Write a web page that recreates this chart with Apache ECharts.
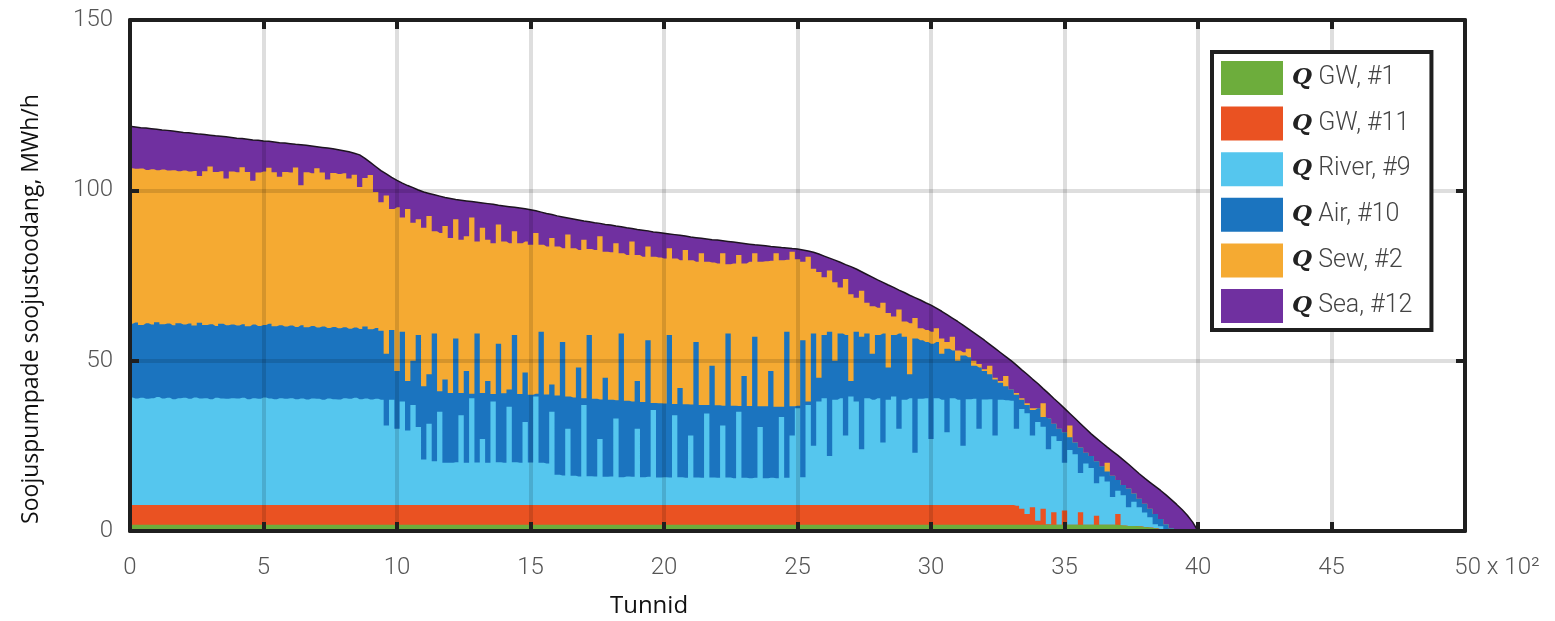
<!DOCTYPE html>
<html>
<head>
<meta charset="utf-8">
<title>Soojuspumpade soojustoodang</title>
<script src="https://cdn.jsdelivr.net/npm/echarts@6.0.0/dist/echarts.min.js"></script>
<style>
html,body{margin:0;padding:0;background:#fff;}
#chart{width:1555px;height:621px;}
</style>
</head>
<body>
<div id="chart"></div>
<script>
// hour grid, in units of 100 h (axis is labelled "x 10²"), one sample every 20 h
const hours = [];
for (let i = 0; i <= 200; i++) hours.push(Math.round(i * 2) / 10);

// upper edge of every coloured band (MWh/h)
// the bands are overlaid, lowest band drawn last
const seaTop = [
  118.8,118.6,118.4,118.3,118.1,117.9,117.7,117.6,117.4,117.2,
  117.0,116.9,116.7,116.5,116.4,116.2,116.0,115.9,115.7,115.5,
  115.3,115.2,115.0,114.8,114.7,114.5,114.4,114.2,114.0,113.9,
  113.7,113.5,113.4,113.2,113.0,112.8,112.6,112.4,112.2,111.9,
  111.6,111.3,110.9,110.4,109.4,108.2,107.0,105.8,104.8,103.8,
  102.9,102.1,101.4,100.8,100.1,99.5,99.1,98.7,98.3,97.9,
  97.6,97.3,97.1,96.9,96.7,96.5,96.3,96.1,95.9,95.6,
  95.4,95.2,95.0,94.8,94.6,94.3,94.0,93.6,93.2,92.9,
  92.5,92.2,91.9,91.6,91.3,91.0,90.8,90.5,90.3,90.0,
  89.8,89.5,89.3,89.0,88.8,88.5,88.3,88.1,87.8,87.6,
  87.4,87.2,87.0,86.8,86.6,86.3,86.1,85.9,85.7,85.5,
  85.4,85.2,85.0,84.8,84.6,84.4,84.2,84.0,83.9,83.7,
  83.5,83.4,83.2,83.1,82.9,82.8,82.5,82.2,81.8,81.3,
  80.7,80.1,79.5,78.9,78.2,77.6,76.9,76.1,75.3,74.5,
  73.7,73.0,72.2,71.5,70.7,70.0,69.2,68.5,67.8,67.0,
  66.3,65.4,64.5,63.5,62.5,61.5,60.4,59.3,58.2,57.1,
  56.0,54.8,53.6,52.4,51.2,50.0,48.7,47.3,46.0,44.6,
  43.3,41.8,40.4,38.9,37.5,36.0,34.5,33.0,31.5,30.0,
  28.5,27.2,25.9,24.6,23.4,22.2,20.9,19.6,18.2,16.8,
  15.5,14.3,13.1,11.9,10.6,9.2,7.8,6.3,4.6,2.6,
  0
];
const sewTop = [
  106.5,106.3,106.4,106.0,106.2,105.9,106.1,105.8,105.9,105.6,
  105.8,105.5,105.7,104.2,105.6,107.0,105.4,105.6,103.5,105.5,
  105.3,106.8,105.4,102.8,105.2,105.5,106.6,105.3,104.0,105.4,
  105.2,106.7,101.5,105.3,105.0,106.5,105.2,103.2,105.1,104.8,
  105.0,103.5,104.6,101.0,103.6,104.5,99.5,96.5,98.5,94.5,
  95.0,92.0,94.5,90.5,91.5,89.0,92.5,88.0,87.5,89.5,
  86.0,91.5,85.5,86.5,92.0,85.0,89.0,85.5,84.5,90.0,
  85.0,84.5,88.0,84.5,85.0,84.0,87.5,84.0,83.5,86.0,
  83.5,83.0,87.0,83.0,82.5,85.5,82.8,82.5,86.5,82.0,
  81.8,84.5,81.5,81.0,85.0,81.0,80.5,83.5,80.5,80.3,
  80.0,83.0,80.0,79.5,82.5,79.5,79.0,81.5,79.0,78.8,
  78.5,81.5,78.3,78.5,81.0,78.5,79.0,81.5,79.0,79.2,
  79.3,81.5,79.5,79.6,82.0,79.8,79.0,80.5,77.0,76.0,
  74.5,76.5,73.0,71.5,74.0,69.5,68.5,70.5,67.0,66.0,
  65.5,67.0,64.0,63.0,65.0,61.5,61.0,62.5,59.5,59.0,
  58.5,59.5,56.5,55.5,57.0,53.0,52.5,53.5,50.0,49.0,
  47.5,48.5,45.0,44.0,45.5,41.5,40.5,39.0,37.5,36.0,
  36.0,37.5,33.0,31.5,30.0,29.0,31.0,26.0,24.5,23.0,
  22.0,20.5,19.0,20.0,16.2,15.0,13.5,12.5,11.0,9.5,
  8.0,6.5,5.0,3.5,2.0,0.8,0,0,0,0,
  0
];
const airTop = [
  60.8,61.2,60.5,61.0,60.6,61.3,60.7,60.9,60.4,61.0,
  60.6,60.9,60.3,61.1,60.5,60.7,60.2,60.8,60.4,60.6,
  60.3,60.7,60.1,60.6,60.2,60.5,60.8,60.1,60.4,60.0,
  60.3,59.9,60.4,59.8,60.2,59.7,60.0,59.6,59.9,59.5,
  59.8,59.4,59.7,59.3,60.0,59.2,59.6,58.8,52.0,59.0,
  47.0,58.5,44.0,50.0,57.5,42.5,46.0,58.0,41.0,44.5,
  40.5,56.5,40.5,47.0,40.3,58.0,40.5,44.0,40.2,55.0,
  40.4,41.5,57.5,40.2,46.5,40.0,40.3,58.5,40.1,43.0,
  39.8,55.5,39.5,39.2,48.0,39.0,57.5,38.8,38.6,45.0,
  38.5,38.4,58.0,38.2,38.0,44.0,37.9,56.0,37.6,37.5,
  37.4,57.5,37.3,42.0,37.2,37.1,55.5,37.0,37.0,48.5,
  36.9,36.8,58.0,36.8,36.7,45.5,36.7,57.0,36.6,36.6,
  47.0,36.5,36.5,58.5,36.6,36.8,56.0,38.0,58.0,45.0,
  57.5,58.5,50.0,58.0,57.5,44.0,58.5,57.0,58.0,52.0,
  57.5,58.0,48.0,57.5,58.0,57.0,46.0,56.5,56.0,55.5,
  55.0,55.5,52.0,53.5,53.0,50.0,51.5,51.0,48.5,48.0,
  47.0,46.0,44.5,43.5,42.5,41.5,40.0,38.5,37.0,35.5,
  36.0,33.5,33.0,31.5,30.0,29.0,27.5,26.0,24.5,23.0,
  22.0,20.5,19.0,17.5,16.2,15.0,13.5,12.5,11.0,9.5,
  8.0,6.5,5.0,3.5,2.0,0.8,0,0,0,0,
  0
];
const riverTop = [
  39.2,38.9,39.1,38.8,39.0,39.3,38.9,39.1,38.7,39.0,
  39.1,38.8,39.2,38.9,39.0,38.7,39.1,38.9,38.8,39.0,
  38.9,39.1,38.7,39.0,38.8,39.2,38.9,38.7,39.0,38.8,
  39.0,38.7,38.9,38.6,38.9,38.8,38.5,38.9,38.7,38.6,
  39.0,38.8,39.1,38.7,38.9,38.6,38.8,38.5,31.0,38.5,
  30.0,38.0,29.5,37.0,30.5,21.0,31.5,20.5,35.0,20.0,
  20.0,20.2,34.0,20.0,39.0,20.1,27.0,20.0,38.0,20.2,
  20.0,36.5,20.2,20.0,32.0,20.1,39.5,20.0,19.8,35.0,
  16.5,16.3,30.0,16.2,16.0,37.0,16.1,16.0,27.0,15.9,
  16.0,33.0,15.8,16.0,15.9,30.0,15.8,15.9,35.5,15.7,
  15.8,15.7,34.0,15.8,15.6,28.0,15.7,15.6,34.5,15.7,
  15.6,31.0,15.7,15.5,35.0,15.6,15.5,15.6,30.5,15.5,
  15.6,15.5,33.5,15.6,28.0,36.0,15.8,37.0,25.0,38.0,
  39.0,22.0,38.5,39.0,28.0,39.5,38.0,24.0,39.0,38.5,
  39.0,26.0,38.5,39.5,30.0,38.5,39.0,23.0,38.8,39.0,
  27.0,39.0,38.5,29.0,39.0,38.5,25.0,38.7,38.8,30.0,
  38.6,38.7,28.0,38.5,38.4,38.2,30.0,35.8,34.6,28.0,
  32.0,30.6,24.0,27.8,26.4,20.0,23.8,22.5,17.0,19.8,
  18.5,14.0,16.0,14.5,10.0,11.8,10.5,7.0,8.6,7.0,
  5.4,4.0,2.0,1.4,0,0,0,0,0,0,
  0
];
const gw11Top = [
  7.6,7.6,7.6,7.6,7.6,7.6,7.6,7.6,7.6,7.6,
  7.6,7.6,7.6,7.6,7.6,7.6,7.6,7.6,7.6,7.6,
  7.6,7.6,7.6,7.6,7.6,7.6,7.6,7.6,7.6,7.6,
  7.6,7.6,7.6,7.6,7.6,7.6,7.6,7.6,7.6,7.6,
  7.6,7.6,7.6,7.6,7.6,7.6,7.6,7.6,7.6,7.6,
  7.6,7.6,7.6,7.6,7.6,7.6,7.6,7.6,7.6,7.6,
  7.6,7.6,7.6,7.6,7.6,7.6,7.6,7.6,7.6,7.6,
  7.6,7.6,7.6,7.6,7.6,7.6,7.6,7.6,7.6,7.6,
  7.6,7.6,7.6,7.6,7.6,7.6,7.6,7.6,7.6,7.6,
  7.6,7.6,7.6,7.6,7.6,7.6,7.6,7.6,7.6,7.6,
  7.6,7.6,7.6,7.6,7.6,7.6,7.6,7.6,7.6,7.6,
  7.6,7.6,7.6,7.6,7.6,7.6,7.6,7.6,7.6,7.6,
  7.6,7.6,7.6,7.6,7.6,7.6,7.6,7.6,7.6,7.6,
  7.6,7.6,7.6,7.6,7.6,7.6,7.6,7.6,7.6,7.6,
  7.6,7.6,7.6,7.6,7.6,7.6,7.6,7.6,7.6,7.6,
  7.6,7.6,7.6,7.6,7.6,7.6,7.6,7.6,7.6,7.6,
  7.6,7.6,7.6,7.6,7.6,7.6,7.4,6.5,5.0,7.0,
  3.0,6.5,2.0,5.5,1.8,6.0,1.8,1.8,5.5,1.8,
  1.8,4.5,1.8,1.8,1.8,5.0,1.6,1.5,1.5,1.4,
  1.2,1.0,0.8,0.5,0,0,0,0,0,0,
  0
];
const gw1Top = [
  1.8,1.8,1.8,1.8,1.8,1.8,1.8,1.8,1.8,1.8,
  1.8,1.8,1.8,1.8,1.8,1.8,1.8,1.8,1.8,1.8,
  1.8,1.8,1.8,1.8,1.8,1.8,1.8,1.8,1.8,1.8,
  1.8,1.8,1.8,1.8,1.8,1.8,1.8,1.8,1.8,1.8,
  1.8,1.8,1.8,1.8,1.8,1.8,1.8,1.8,1.8,1.8,
  1.8,1.8,1.8,1.8,1.8,1.8,1.8,1.8,1.8,1.8,
  1.8,1.8,1.8,1.8,1.8,1.8,1.8,1.8,1.8,1.8,
  1.8,1.8,1.8,1.8,1.8,1.8,1.8,1.8,1.8,1.8,
  1.8,1.8,1.8,1.8,1.8,1.8,1.8,1.8,1.8,1.8,
  1.8,1.8,1.8,1.8,1.8,1.8,1.8,1.8,1.8,1.8,
  1.8,1.8,1.8,1.8,1.8,1.8,1.8,1.8,1.8,1.8,
  1.8,1.8,1.8,1.8,1.8,1.8,1.8,1.8,1.8,1.8,
  1.8,1.8,1.8,1.8,1.8,1.8,1.8,1.8,1.8,1.8,
  1.8,1.8,1.8,1.8,1.8,1.8,1.8,1.8,1.8,1.8,
  1.8,1.8,1.8,1.8,1.8,1.8,1.8,1.8,1.8,1.8,
  1.8,1.8,1.8,1.8,1.8,1.8,1.8,1.8,1.8,1.8,
  1.8,1.8,1.8,1.8,1.8,1.8,1.8,1.8,1.8,1.8,
  1.8,1.8,1.8,1.8,1.8,1.8,1.8,1.8,1.8,1.8,
  1.8,1.8,1.8,1.8,1.8,1.8,1.6,1.5,1.5,1.4,
  1.2,1.0,0.8,0.5,0,0,0,0,0,0,
  0
];

const names = ['Q GW, #1', 'Q GW, #11', 'Q River, #9', 'Q Air, #10', 'Q Sew, #2', 'Q Sea, #12'];
const colors = ['#6dad3c', '#ea5222', '#55c6ee', '#1b74bf', '#f5aa32', '#7030a0'];
const tops = [gw1Top, gw11Top, riverTop, airTop, sewTop, seaTop];

const chart = echarts.init(document.getElementById('chart'));

function band(k) {
  return {
    name: names[k],
    type: 'line',
    symbol: 'none',
    showSymbol: false,
    silent: true,
    // the noisy bands are drawn as thin steps, like the hourly streaks
    step: (k >= 1 && k <= 4) ? 'middle' : false,
    data: hours.map((h, i) => [h, tops[k][i]]),
    itemStyle: {color: colors[k]},
    lineStyle: k === 5 ? {width: 1.5, color: '#1d1420'} : {width: 0, color: colors[k]},
    areaStyle: {color: colors[k], opacity: 1}
  };
}

// top band first so the lower ones are painted over it
const series = [];
for (let k = 5; k >= 0; k--) series.push(band(k));

const axisCol = '#1f1f1f';
const tickFont = {color: '#555', fontFamily: 'Roboto', fontWeight: 300, fontSize: 24};

chart.setOption({
  animation: false,
  backgroundColor: '#fff',
  grid: {left: 130, right: 90, top: 20, bottom: 90, containLabel: false, outerBoundsMode: 'none'},
  xAxis: [{
    type: 'value', min: 0, max: 50, interval: 5, position: 'bottom', z: 5,
    axisLine: {show: true, onZero: false, lineStyle: {color: axisCol, width: 4}},
    axisTick: {show: true, inside: true, length: 9, lineStyle: {color: axisCol, width: 4}},
    axisLabel: Object.assign({
      margin: 25,
      formatter: v => v === 50 ? '{pad|}50{sfx| x 10²}' : String(v),
      rich: {
        pad: {width: 64},
        sfx: {color: '#555', fontFamily: 'Roboto', fontWeight: 300, fontSize: 24}
      }
    }, tickFont),
    splitLine: {show: true, lineStyle: {color: 'rgba(0,0,0,0.13)', width: 4}}
  }, {
    type: 'value', min: 0, max: 50, interval: 5, position: 'top', z: 5,
    axisLine: {show: true, onZero: false, lineStyle: {color: axisCol, width: 4}},
    axisTick: {show: true, inside: true, length: 9, lineStyle: {color: axisCol, width: 4}},
    axisLabel: {show: false},
    splitLine: {show: false}
  }],
  yAxis: [{
    type: 'value', min: 0, max: 150, interval: 50, position: 'left', z: 5,
    axisLine: {show: true, onZero: false, lineStyle: {color: axisCol, width: 4}},
    axisTick: {show: true, inside: true, length: 9, lineStyle: {color: axisCol, width: 4}},
    axisLabel: Object.assign({margin: 17}, tickFont),
    splitLine: {show: true, lineStyle: {color: 'rgba(0,0,0,0.13)', width: 4}}
  }, {
    type: 'value', min: 0, max: 150, interval: 50, position: 'right', z: 5,
    axisLine: {show: true, onZero: false, lineStyle: {color: axisCol, width: 4}},
    axisTick: {show: true, inside: true, length: 9, lineStyle: {color: axisCol, width: 4}},
    axisLabel: {show: false},
    splitLine: {show: false}
  }],
  legend: {
    data: names,
    orient: 'vertical',
    left: 1212, top: 52,
    icon: 'rect',
    itemWidth: 62, itemHeight: 34, itemGap: 11.6,
    padding: [9, 19, 7, 9],
    borderColor: axisCol, borderWidth: 4,
    backgroundColor: '#fff',
    selectedMode: false,
    z: 10,
    itemStyle: {borderWidth: 0},
    formatter: name => '{q|Q}{t| ' + name.slice(2) + '}',
    textStyle: {
      rich: {
        q: {fontFamily: 'DejaVu Serif', fontStyle: 'italic', fontWeight: 'bold', fontSize: 23, color: '#222', padding: [0, 0, 0, 4]},
        t: {fontFamily: 'Roboto', fontWeight: 300, fontSize: 25, color: '#444'}
      }
    }
  },
  graphic: [{
    type: 'text', x: 31, y: 309, rotation: Math.PI / 2,
    style: {text: 'Soojuspumpade soojustoodang, MWh/h', font: '23px "Open Sans"', fill: '#111', align: 'center', verticalAlign: 'middle'}
  }, {
    type: 'text', x: 649, y: 606,
    style: {text: 'Tunnid', font: '24px "Open Sans"', fill: '#111', align: 'center', verticalAlign: 'middle'}
  }],
  series: series
});
</script>
</body>
</html>
